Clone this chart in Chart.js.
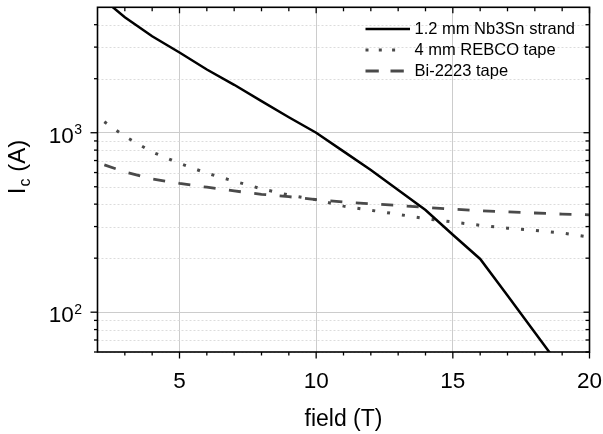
<!DOCTYPE html>
<html><head><meta charset="utf-8">
<script src="https://cdn.jsdelivr.net/npm/chart.js@4.4.1/dist/chart.umd.min.js"></script>
<style>html,body{margin:0;padding:0;background:#fff;}#wrap{width:603px;height:434px;}</style>
</head><body><div id="wrap"><canvas id="c" width="603" height="434"></canvas></div>
<script>
// ---- data ----
const nb3snField = [2, 3, 4, 5, 6, 7, 8, 9, 10, 11, 12, 13, 14, 15, 16, 17, 18, 19];
const nb3snIc = [5900, 4400, 3450, 2800, 2250, 1850, 1500, 1220, 1000, 787, 620, 480, 371, 270, 198, 124, 77, 48];
const rebcoField = [2.25, 3, 4, 5, 6, 7, 8, 9, 10, 11, 12, 13, 14, 15, 16, 17, 18, 19, 20];
const rebcoIc = [1150, 955, 781, 675, 595, 537, 487, 450, 423, 390, 370, 351, 332, 318, 305, 294, 286, 276, 262];
const biField = [2.25, 3, 4, 5, 6, 7, 8, 9, 10, 11, 12, 13, 14, 15, 16, 17, 18, 19, 20];
const biIc = [662, 605, 553, 522, 497, 474, 454, 440, 424, 411, 402, 393, 384, 375, 368, 362, 357, 352, 349];
const seriesLabels = ['1.2 mm Nb3Sn strand', '4 mm REBCO tape', 'Bi-2223 tape'];
const xTickValues = [5, 10, 15, 20];
const xTickLabels = ['5', '10', '15', '20'];
const xMinorValues = [3, 4, 6, 7, 8, 9, 11, 12, 13, 14, 16, 17, 18, 19];
const yTickValues = [100, 1000];
const yTickBase = ['10', '10'];
const yTickExp = ['2', '3'];
const yMinorValues = [60, 70, 80, 90, 200, 300, 400, 500, 600, 700, 800, 900, 2000, 3000, 4000];
const xTitle = 'field (T)';
const yTitleMain = 'I', yTitleSub = 'c', yTitleRest = ' (A)';

const FONT = "'Liberation Sans', Arial, sans-serif";
const styles = [
  {color: '#000000', width: 2.5, dash: [], legendDash: [], legendEnd: 410},
  {color: '#4a4a4a', width: 3, dash: [3, 12], legendDash: [3, 10.3], legendEnd: 397},
  {color: '#4a4a4a', width: 2.8, dash: [12, 13.5], legendDash: [13.3, 11.7], legendEnd: 404}
];
const legendRowsY = [29, 50, 71];

function pts(xs, ys) { return xs.map((x, i) => ({x: x, y: ys[i]})); }

const decor = {
  id: 'decor',
  beforeDatasetsDraw(chart) {
    const {ctx, chartArea: a, scales: {x, y}} = chart;
    ctx.save();
    ctx.strokeStyle = '#dcdcdc';
    ctx.lineWidth = 1;
    ctx.setLineDash([2, 2]);
    yMinorValues.forEach(v => {
      const py = Math.round(y.getPixelForValue(v)) + 0.5;
      ctx.beginPath(); ctx.moveTo(a.left, py); ctx.lineTo(a.right, py); ctx.stroke();
    });
    ctx.restore();
  },
  afterDatasetsDraw(chart) {
    const {ctx, chartArea: a, scales: {x, y}} = chart;
    ctx.save();
    ctx.strokeStyle = '#000'; ctx.lineWidth = 1.6; ctx.setLineDash([]);
    ctx.strokeRect(a.left, a.top, a.right - a.left, a.bottom - a.top);
    ctx.lineWidth = 1.3;
    const line = (x1, y1, x2, y2) => { ctx.beginPath(); ctx.moveTo(x1, y1); ctx.lineTo(x2, y2); ctx.stroke(); };
    yTickValues.forEach(v => { const py = y.getPixelForValue(v); line(a.left, py, a.left - 7, py); line(a.right, py, a.right - 6, py); });
    yMinorValues.forEach(v => { const py = y.getPixelForValue(v); line(a.left, py, a.left - 3.5, py); line(a.right, py, a.right - 4, py); });
    xTickValues.forEach(v => { const px = x.getPixelForValue(v); line(px, a.bottom, px, a.bottom + 6.5); line(px, a.top, px, a.top + 6); });
    xMinorValues.forEach(v => { const px = x.getPixelForValue(v); line(px, a.bottom, px, a.bottom + 3.5); line(px, a.top, px, a.top + 4); });
    ctx.fillStyle = '#000';
    ctx.font = '22.5px ' + FONT;
    ctx.textAlign = 'center'; ctx.textBaseline = 'alphabetic';
    xTickValues.forEach((v, i) => ctx.fillText(xTickLabels[i], x.getPixelForValue(v), 387.5));
    yTickValues.forEach((v, i) => {
      const py = y.getPixelForValue(v);
      ctx.font = '14px ' + FONT; ctx.textAlign = 'right';
      ctx.fillText(yTickExp[i], 82, py + 1.5);
      const ew = ctx.measureText(yTickExp[i]).width;
      ctx.font = '22.5px ' + FONT;
      ctx.fillText(yTickBase[i], 82 - ew - 0.5, py + 9.8);
    });
    ctx.font = '23px ' + FONT; ctx.textAlign = 'center';
    ctx.fillText(xTitle, (a.left + a.right) / 2, 426);
    ctx.save();
    ctx.translate(25, 167);
    ctx.rotate(-Math.PI / 2);
    ctx.textAlign = 'left';
    ctx.font = '24px ' + FONT;
    const w1 = ctx.measureText(yTitleMain).width;
    ctx.font = '16px ' + FONT;
    const w2 = ctx.measureText(yTitleSub).width;
    ctx.font = '24px ' + FONT;
    const w3 = ctx.measureText(yTitleRest).width;
    const total = w1 + 1 + w2 + w3;
    let cx = -total / 2;
    ctx.fillText(yTitleMain, cx, 0); cx += w1 + 1;
    ctx.font = '16px ' + FONT; ctx.fillText(yTitleSub, cx, 5); cx += w2;
    ctx.font = '24px ' + FONT; ctx.fillText(yTitleRest, cx, 0);
    ctx.restore();
    seriesLabels.forEach((lab, i) => {
      const s = styles[i], ly = legendRowsY[i];
      ctx.strokeStyle = s.color; ctx.lineWidth = s.width; ctx.setLineDash(s.legendDash);
      line(365.5, ly, s.legendEnd, ly);
      ctx.setLineDash([]);
      ctx.fillStyle = '#000'; ctx.font = '16.5px ' + FONT; ctx.textAlign = 'left'; ctx.textBaseline = 'middle';
      ctx.fillText(lab, 414.5, ly + 0.5);
    });
    ctx.restore();
  }
};

new Chart(document.getElementById('c'), {
  type: 'line',
  data: {
    datasets: [
      {label: seriesLabels[0], data: pts(nb3snField, nb3snIc)},
      {label: seriesLabels[1], data: pts(rebcoField, rebcoIc)},
      {label: seriesLabels[2], data: pts(biField, biIc)}
    ].map((d, i) => Object.assign(d, {
      borderColor: styles[i].color, borderWidth: styles[i].width, borderDash: styles[i].dash,
      pointRadius: 0, tension: 0, fill: false, clip: 0, borderCapStyle: 'butt'
    }))
  },
  options: {
    responsive: false, animation: false, devicePixelRatio: 1,
    layout: {padding: {left: 0, right: 13.5, top: 7.3, bottom: 0}},
    plugins: {legend: {display: false}, tooltip: {enabled: false}},
    scales: {
      x: {
        type: 'linear', min: 2, max: 20,
        afterBuildTicks: s => { s.ticks = xTickValues.map(v => ({value: v})); },
        afterFit: s => { s.height = 82; },
        grid: {color: '#cccccc', lineWidth: 1, drawTicks: false},
        border: {display: false},
        ticks: {display: false}
      },
      y: {
        type: 'logarithmic', min: 60, max: 5000,
        afterBuildTicks: s => { s.ticks = yTickValues.map(v => ({value: v, major: true})); },
        afterFit: s => { s.width = 97.5; },
        grid: {color: '#cccccc', lineWidth: 1, drawTicks: false},
        border: {display: false},
        ticks: {display: false}
      }
    }
  },
  plugins: [decor]
});
</script>
</body></html>
